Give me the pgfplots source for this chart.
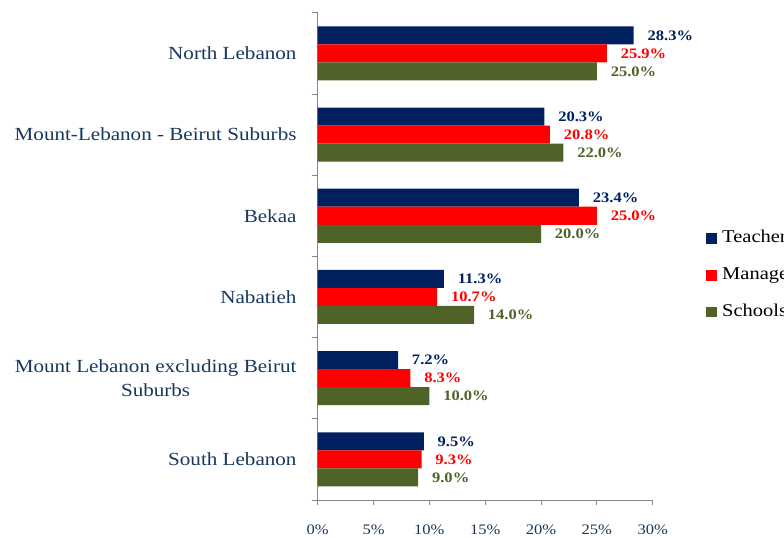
\documentclass[border=0pt]{standalone}
\usepackage{pgfplots}
\pgfplotsset{compat=1.18}
\usepackage{fontspec}
\setmainfont{Liberation Serif}[FakeStretch=1.14]
\definecolor{cnavy}{RGB}{0,32,96}
\definecolor{cred}{RGB}{255,0,0}
\definecolor{cgreen}{RGB}{79,98,40}
\definecolor{ctext}{RGB}{23,55,94}
\definecolor{caxis}{RGB}{134,134,134}
\begin{document}
\begin{tikzpicture}
\begin{axis}[
  name=ax,
  /pgf/number format/assume math mode=true,
  scale only axis, width=335bp, height=487.3bp,
  xbar, bar width=0.2217,
  y dir=reverse,
  ymin=-0.5, ymax=5.5, xmin=0, xmax=30,
  enlargelimits=false, clip=false,
  axis x line*=bottom, axis y line*=left,
  axis line style={-, caxis, line width=0.8bp},
  tick align=outside,
  major tick length=5bp, minor tick length=6bp,
  tick style={caxis, line width=0.8bp},
  major y tick style={draw=none},
  ytick={0,1,2,3,4,5},
  minor ytick={-0.5,0.5,1.5,2.5,3.5,4.5,5.5},
  yticklabels={North Lebanon,{Mount-Lebanon - Beirut Suburbs},Bekaa,Nabatieh,{Mount Lebanon excluding Beirut\\Suburbs},South Lebanon},
  yticklabel style={font=\fontsize{18.5bp}{24bp}\selectfont, text=ctext, align=center, inner sep=0pt, xshift=-16bp},
  xtick={0,5,10,15,20,25,30},
  xticklabel={\pgfmathprintnumber{\tick}\%},
  xticklabel style={font=\fontsize{14.5bp}{16bp}\selectfont, text=ctext, inner sep=0pt, yshift=-20bp},
  nodes near coords={\pgfmathprintnumber[fixed,fixed zerofill,precision=1]{\pgfplotspointmeta}\%},
  nodes near coords style={anchor=west, inner sep=0pt, xshift=13.7bp, font=\bfseries\fontsize{14.5bp}{16bp}\selectfont},
  legend image code/.code={\path[#1, draw=none] (0bp,-5.35bp) rectangle (10.7bp,5.35bp);},
  legend cell align=left,
  legend style={at={(1.159,0.461)}, anchor=west, draw=none, fill=none, inner sep=0pt,
    font=\fontsize{18bp}{18bp}\selectfont, row sep=20.7bp, column sep=5.3bp,
    nodes={inner sep=0pt, text height=12bp, text depth=4bp}},
]
\addplot[fill=cnavy, draw=none, bar shift=-0.2217, nodes near coords style={text=cnavy}] coordinates {(28.3,0) (20.3,1) (23.4,2) (11.3,3) (7.2,4) (9.5,5)};
\addplot[fill=cred, draw=none, bar shift=0, nodes near coords style={text=cred}] coordinates {(25.9,0) (20.8,1) (25.0,2) (10.7,3) (8.3,4) (9.3,5)};
\addplot[fill=cgreen, draw=none, bar shift=0.2217, nodes near coords style={text=cgreen}] coordinates {(25.0,0) (22.0,1) (20.0,2) (14.0,3) (10.0,4) (9.0,5)};
\legend{Teachers,Managers,Schools}
\end{axis}
\pgfresetboundingbox
\useasboundingbox ([xshift=-317.7bp,yshift=-38bp]ax.south west) rectangle ([xshift=466.3bp,yshift=500bp]ax.south west);
\end{tikzpicture}
\end{document}
